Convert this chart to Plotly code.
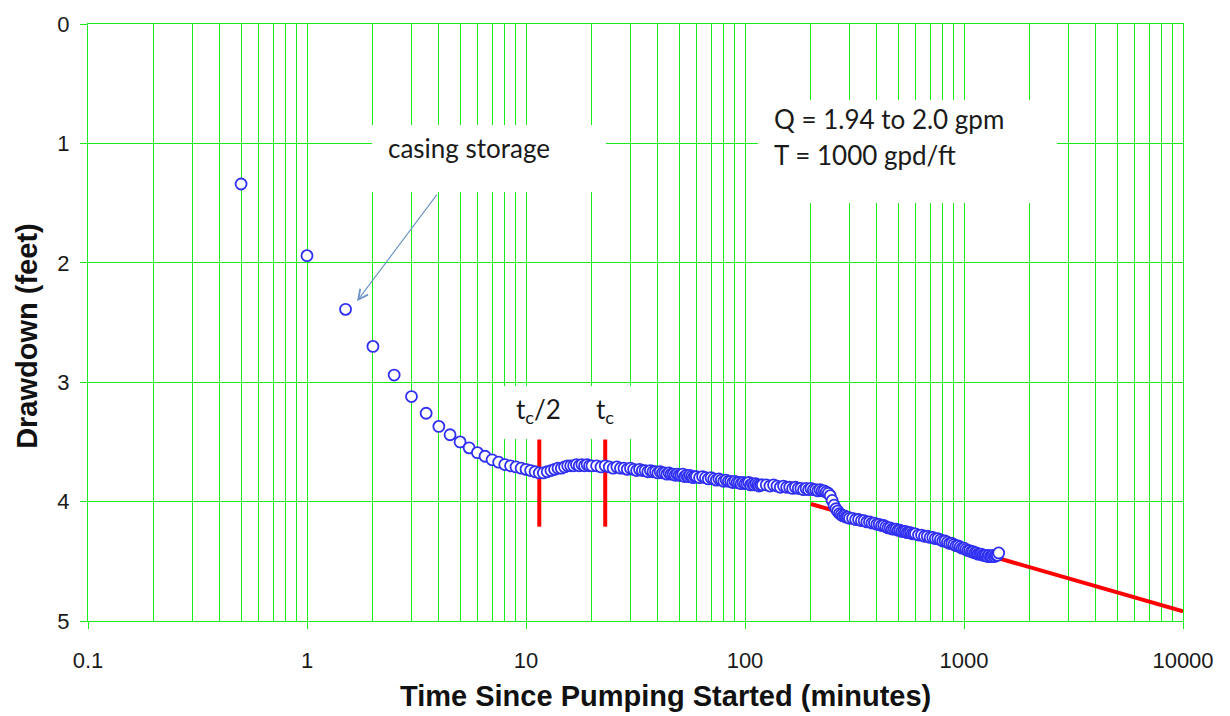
import plotly.graph_objects as go

# Pumping-test record: elapsed time (minutes) and drawdown (feet)
time_min = [
    0.5, 1, 1.5, 2, 2.5, 3, 3.5, 4, 4.5, 5, 5.5, 6, 6.5, 7, 7.5, 8, 8.5, 9, 9.5, 10,
    10.5, 11, 11.5, 12, 12.5, 13, 13.5, 14, 14.5, 15, 15.5, 16, 16.5, 17, 17.5, 18, 18.5, 19, 19.5, 20,
    21, 22, 23, 24, 25, 26, 27, 28, 29, 30, 31, 32, 33, 34, 35, 36, 37, 38, 39, 40,
    41, 42, 43, 44, 45, 46, 47, 48, 49, 50, 51, 52, 53, 54, 55, 56, 57, 58, 59, 60,
    62, 64, 66, 68, 70, 72, 74, 76, 78, 80, 82, 84, 86, 88, 90,
    92, 94, 96, 98, 100, 102, 104, 106, 108, 110, 112, 114, 116, 118, 120,
    125, 130, 135, 140, 145, 150, 155, 160, 165, 170, 175, 180,
    185, 190, 195, 200, 205, 210, 215, 220, 225, 230, 235, 240,
    245, 250, 255, 260, 265, 270, 275, 280, 285, 290, 295, 300,
    310, 320, 330, 340, 350, 360, 370, 380, 390, 400, 410, 420, 430, 440, 450,
    460, 470, 480, 490, 500, 510, 520, 530, 540, 550, 560, 570, 580, 590, 600,
    620, 640, 660, 680, 700, 720, 740, 760, 780, 800, 820, 840, 860, 880,
    900, 920, 940, 960, 980, 1000, 1020, 1040, 1060, 1080, 1100, 1120, 1140, 1160,
    1180, 1200, 1220, 1240, 1260, 1280, 1300, 1320, 1340, 1360, 1380, 1400, 1420, 1440,
]
drawdown_ft = [
    1.34, 1.94, 2.39, 2.70, 2.94, 3.12, 3.26, 3.37, 3.44, 3.50, 3.55, 3.59, 3.62, 3.65, 3.67, 3.69, 3.70, 3.71, 3.72, 3.73,
    3.74, 3.75, 3.76, 3.76, 3.75, 3.74, 3.73, 3.72, 3.72, 3.71, 3.70, 3.70, 3.70, 3.69, 3.70, 3.69, 3.70, 3.69, 3.70, 3.70,
    3.70, 3.71, 3.70, 3.71, 3.72, 3.71, 3.72, 3.72, 3.73, 3.72, 3.73, 3.74, 3.73, 3.74, 3.74, 3.75, 3.74, 3.75, 3.75, 3.76,
    3.75, 3.76, 3.76, 3.77, 3.76, 3.77, 3.77, 3.78, 3.77, 3.78, 3.78, 3.77, 3.79, 3.78, 3.79, 3.78, 3.79, 3.80, 3.79, 3.79,
    3.80, 3.79, 3.80, 3.81, 3.80, 3.81, 3.82, 3.81, 3.82, 3.83, 3.82, 3.83, 3.83, 3.84, 3.83,
    3.84, 3.84, 3.85, 3.84, 3.85, 3.85, 3.84, 3.86, 3.85, 3.86, 3.85, 3.86, 3.87, 3.86, 3.86,
    3.86, 3.87, 3.86, 3.87, 3.88, 3.87, 3.88, 3.88, 3.89, 3.88, 3.89, 3.89,
    3.90, 3.89, 3.90, 3.89, 3.90, 3.90, 3.91, 3.90, 3.91, 3.91, 3.92, 3.93,
    3.95, 3.99, 4.03, 4.06, 4.08, 4.10, 4.11, 4.12, 4.12, 4.13, 4.13, 4.14,
    4.14, 4.15, 4.15, 4.16, 4.16, 4.17, 4.17, 4.18, 4.18, 4.19, 4.19, 4.20, 4.20, 4.21, 4.22,
    4.22, 4.23, 4.23, 4.23, 4.24, 4.24, 4.25, 4.25, 4.25, 4.26, 4.26, 4.26, 4.27, 4.27, 4.27,
    4.28, 4.28, 4.29, 4.29, 4.30, 4.30, 4.31, 4.31, 4.32, 4.33, 4.33, 4.34, 4.35, 4.35,
    4.36, 4.37, 4.37, 4.38, 4.39, 4.39, 4.40, 4.41, 4.41, 4.42, 4.42, 4.43, 4.43, 4.44,
    4.44, 4.44, 4.45, 4.45, 4.45, 4.46, 4.45, 4.46, 4.46, 4.45, 4.46, 4.45, 4.45, 4.43,
]

# Straight-line (Cooper-Jacob) fit through the late-time data
fit_time_min = [200, 10000]
fit_drawdown_ft = [4.02, 4.92]

# Casing-storage markers at tc/2 and tc
tc_half_min = 11.5
tc_min = 23
tc_bar_ft = [3.48, 4.21]

x_tick_vals = [0.1, 1, 10, 100, 1000, 10000]
x_tick_text = ["0.1", "1", "10", "100", "1000", "10000"]
y_tick_vals = [0, 1, 2, 3, 4, 5]
y_tick_text = ["0", "1", "2", "3", "4", "5"]

x_title = "Time Since Pumping Started (minutes)"
y_title = "Drawdown (feet)"

GRID = "#19ec19"
AXIS_FONT = "Liberation Sans, Arial, sans-serif"
NOTE_FONT = "Lato, Carlito, Calibri, sans-serif"

# plot area in pixels (used to place the notes and titles)
PLOT_L, PLOT_R, PLOT_T, PLOT_B = 88, 1183, 18, 621


def px_to_paper(px, py):
    return ((px - PLOT_L) / (PLOT_R - PLOT_L), (PLOT_B - py) / (PLOT_B - PLOT_T))


def note(text, px, py, font, xanchor="center", **kw):
    x, y = px_to_paper(px, py)
    fig.add_annotation(text=text, xref="paper", yref="paper", x=x, y=y,
                       xanchor=xanchor, yanchor="middle", showarrow=False,
                       font=font, **kw)


fig = go.Figure()

fig.add_trace(go.Scatter(
    x=fit_time_min, y=fit_drawdown_ft, mode="lines",
    line=dict(color="#ff0000", width=4), showlegend=False, hoverinfo="skip",
))
fig.add_trace(go.Scatter(
    x=[tc_half_min, tc_half_min, None, tc_min, tc_min],
    y=[tc_bar_ft[0], tc_bar_ft[1], None, tc_bar_ft[0], tc_bar_ft[1]],
    mode="lines", line=dict(color="#ff0000", width=4),
    showlegend=False, hoverinfo="skip",
))
fig.add_trace(go.Scatter(
    x=time_min, y=drawdown_ft, mode="markers",
    marker=dict(symbol="circle", size=11, color="white",
                line=dict(color="#3030f4", width=1.8)),
    showlegend=False,
))

# White text boxes that mask the grid behind the notes (left, top, right, bottom px)
boxes = [
    (372, 120, 606, 187),
    (758, 95, 1057, 198),
    (497, 384, 645, 437),
]
for l, t, r, b in boxes:
    note("&nbsp;", (l + r) / 2, (t + b) / 2, dict(size=10),
         width=r - l, height=b - t, borderpad=0, borderwidth=0, bgcolor="white")

note_font = dict(family=NOTE_FONT, size=26, color="#1a1a1a")
note("casing storage", 469, 143, note_font)

x, y = px_to_paper(357, 298)
fig.add_annotation(text="", xref="paper", yref="paper", x=x, y=y,
                   ax=81, ay=-108, showarrow=True, arrowhead=5, arrowsize=1.6,
                   arrowwidth=1.2, arrowcolor="#7096c8")

note("Q = 1.94 to 2.0 gpm", 772, 114, note_font, xanchor="left")
note("T = 1000 gpd/ft", 772, 150, note_font, xanchor="left")
note("t<sub>c</sub>/2", 538, 408, note_font)
note("t<sub>c</sub>", 605, 408, note_font)

# Axis titles
title_font = dict(family=AXIS_FONT, size=29, color="#111111")
note("<b>" + x_title + "</b>", 665, 697, title_font)
note("<b>" + y_title + "</b>", 27, 333, title_font, textangle=-90)

fig.update_xaxes(
    type="log", range=[-1, 4],
    tickvals=x_tick_vals, ticktext=x_tick_text,
    showgrid=True, gridcolor=GRID, gridwidth=1.3,
    minor=dict(dtick="D1", showgrid=True, gridcolor=GRID, gridwidth=1.3, ticks=""),
    ticks="outside", ticklen=7, tickcolor=GRID, ticklabelstandoff=12,
    showline=True, linecolor=GRID, linewidth=1.3, mirror=True, zeroline=False,
    tickfont=dict(family=AXIS_FONT, size=22, color="#1a1a1a"),
)
fig.update_yaxes(
    range=[5, 0], tickvals=y_tick_vals, ticktext=y_tick_text,
    showgrid=True, gridcolor=GRID, gridwidth=1.3,
    ticks="outside", ticklen=7, tickcolor=GRID, ticklabelstandoff=6,
    showline=True, linecolor=GRID, linewidth=1.3, mirror=True, zeroline=False,
    tickfont=dict(family=AXIS_FONT, size=22, color="#1a1a1a"),
)

fig.update_layout(
    width=1230, height=716,
    margin=dict(l=88, r=47, t=18, b=95),
    paper_bgcolor="white", plot_bgcolor="white",
    showlegend=False,
)

fig.write_html("out.html")
